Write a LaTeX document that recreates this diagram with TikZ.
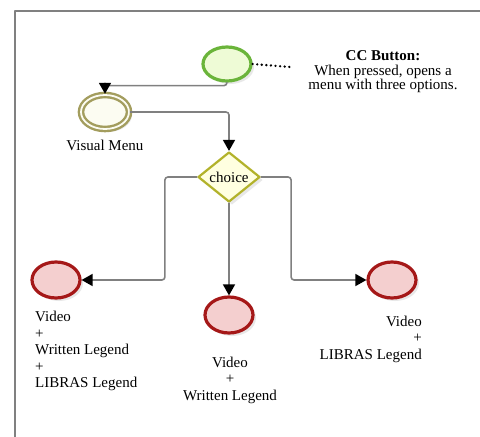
\documentclass[tikz,border=0pt]{standalone}
\usepackage{fontspec}
\setmainfont{Liberation Serif}
\usetikzlibrary{shapes.geometric, arrows.meta, shadows}

\definecolor{startdraw}{HTML}{6AB43A}
\definecolor{startfill}{HTML}{EEFBD6}
\definecolor{menudraw}{HTML}{A39D5E}
\definecolor{menufill}{HTML}{FCFCF2}
\definecolor{choicedraw}{HTML}{B2B22A}
\definecolor{choicefill}{HTML}{FFFFE0}
\definecolor{enddraw}{HTML}{A51818}
\definecolor{endfill}{HTML}{F4CFCF}
\definecolor{flowgray}{HTML}{808080}

\begin{document}
\begin{tikzpicture}[x=1pt, y=-1pt, line cap=round, line join=round,
	font=\fontsize{15}{16.5}\selectfont,
	soft/.style={drop shadow={opacity=0.18, shadow xshift=3pt, shadow yshift=-3pt}},
	event/.style={ellipse, minimum width=48pt, minimum height=36pt, inner sep=0pt, line width=3.2pt, soft},
	flow/.style={draw=flowgray, line width=1.6pt, rounded corners=3pt, -{Triangle[length=11pt, width=12pt, fill=black, color=black]}}]
	\useasboundingbox (0, 0) rectangle (480, 437);
	% Frame
	\draw [gray, line width=1.6pt] (15, 437) -- (15, 11) -- (480, 11);
	% Start event
	\node [event, draw=startdraw, fill=startfill, minimum height=34pt] (node-1-1) at (227, 64) {};
	\coordinate (note-1) at (290, 67);
	\draw [line width=2.6pt, dash pattern=on 0pt off 4.6pt, line cap=round] (node-1-1.east) -- (note-1);
	\node [align=center, font=\fontsize{15}{14.5}\selectfont] (text-1-1) at (383, 72) {\textbf{CC Button:}\\When pressed, opens a\\menu with three options.};
	% Visual menu
	\node [event, draw=menudraw, fill=menufill, minimum height=34pt, line width=2.4pt, double=menufill, double distance=1.8pt] (node-2-1) at (105, 112) {};
	\node (text-2-1) at (105, 145) {Visual Menu};
	% Choice
	\node [diamond, draw=choicedraw, fill=choicefill, line width=2.2pt, minimum width=62pt, minimum height=50pt, inner sep=0pt, soft] (node-3-1) at (229, 177) {choice};
	% End events
	\node [event, draw=enddraw, fill=endfill] (node-4-1) at (56, 280) {};
	\node [event, draw=enddraw, fill=endfill] (node-4-2) at (229, 315) {};
	\node [event, draw=enddraw, fill=endfill] (node-4-3) at (392, 280) {};
	\node [align=left, anchor=west, inner sep=0pt] (text-4-1) at (35, 351) {Video\\+\\Written Legend\\+\\LIBRAS Legend};
	\node [align=center] (text-4-2) at (230, 380) {Video\\+\\Written Legend};
	\node [align=right, anchor=east, inner sep=0pt] (text-4-3) at (422, 339) {Video\\+\\LIBRAS Legend};
	% Arrows
	\draw [flow] (node-1-1.south) -- ++(0, 3) -| (node-2-1.north);
	\draw [flow] (node-2-1.east) -| (node-3-1.north);
	\draw [flow] (node-3-1.west) -- ++(-32, 0) |- (node-4-1.east);
	\draw [flow] (node-3-1.south) -- (node-4-2.north);
	\draw [flow] (node-3-1.east) -- ++(30, 0) |- (node-4-3.west);
\end{tikzpicture}
\end{document}
